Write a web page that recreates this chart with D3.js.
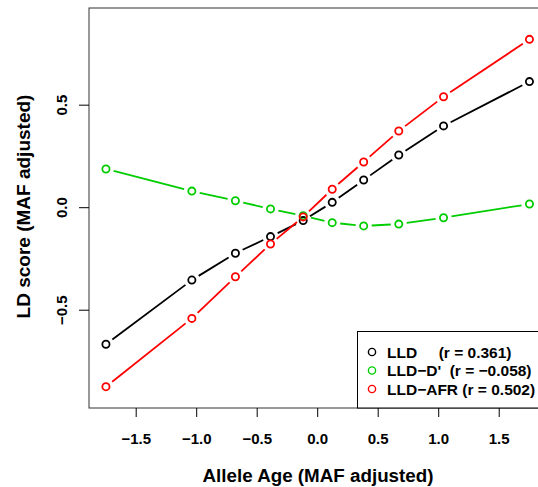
<!DOCTYPE html>
<html>
<head>
<meta charset="utf-8">
<script src="https://cdn.jsdelivr.net/npm/d3@7"></script>
<style>
  body { margin: 0; background: #fff; }
  text { font-family: "Liberation Sans", Arial, Helvetica, sans-serif; font-weight: bold; }
</style>
</head>
<body>
<svg width="538" height="487"></svg>
<script>
// allele age bins (x) and the three LD scores
var ageBins = [-1.75, -1.04, -0.68, -0.39, -0.12, 0.12, 0.38, 0.67, 1.04, 1.75];
var lld    = [-0.666, -0.353, -0.222, -0.141, -0.063, 0.026, 0.135, 0.257, 0.399, 0.615];
var lldD   = [0.189, 0.081, 0.034, -0.006, -0.039, -0.073, -0.089, -0.080, -0.049, 0.018];
var lldAfr = [-0.873, -0.540, -0.337, -0.177, -0.045, 0.090, 0.223, 0.374, 0.541, 0.821];

var xTicks = [-1.5, -1.0, -0.5, 0.0, 0.5, 1.0, 1.5];
var yTicks = [-0.5, 0.0, 0.5];

var seriesNames = ["LLD     (r = 0.361)", "LLD\u2212D'  (r = \u22120.058)", "LLD\u2212AFR (r = 0.502)"];
var seriesColors = ["#000000", "#00cd00", "#ff0000"];
var seriesValues = [lld, lldD, lldAfr];

var svg = d3.select("svg"),
    pLeft = 89, pTop = 8, pBottom = 408, pRight = 546.4;

var x = d3.scaleLinear().domain([-1.89, 1.89]).range([pLeft, pRight]);
var y = d3.scaleLinear().domain([-0.977, 0.974]).range([pBottom, pTop]);

var fmt = function(d) { return d3.format(".1f")(d).replace("-", "\u2212"); };

// plot frame
svg.append("rect")
    .attr("x", pLeft).attr("y", pTop)
    .attr("width", pRight - pLeft).attr("height", pBottom - pTop)
    .attr("fill", "none").attr("stroke", "#333").attr("stroke-width", 1);

// x axis ticks + labels
var xa = svg.append("g");
xa.selectAll("line").data(xTicks).enter().append("line")
    .attr("x1", function(d) { return x(d); }).attr("x2", function(d) { return x(d); })
    .attr("y1", pBottom).attr("y2", pBottom + 9)
    .attr("stroke", "#000");
xa.selectAll("text").data(xTicks).enter().append("text")
    .attr("x", function(d) { return x(d); }).attr("y", 444)
    .attr("text-anchor", "middle").attr("font-size", 15)
    .text(fmt);

// y axis ticks + labels (rotated, R style)
var ya = svg.append("g");
ya.selectAll("line").data(yTicks).enter().append("line")
    .attr("x1", pLeft - 10).attr("x2", pLeft)
    .attr("y1", function(d) { return y(d); }).attr("y2", function(d) { return y(d); })
    .attr("stroke", "#000");
ya.selectAll("text").data(yTicks).enter().append("text")
    .attr("transform", function(d) { return "translate(67," + y(d) + ") rotate(-90)"; })
    .attr("text-anchor", "middle").attr("font-size", 15)
    .text(fmt);

// axis titles
svg.append("text")
    .attr("x", 318).attr("y", 481.5)
    .attr("text-anchor", "middle").attr("font-size", 18.8)
    .text("Allele Age (MAF adjusted)");
svg.append("text")
    .attr("transform", "translate(29.5,206.5) rotate(-90)")
    .attr("text-anchor", "middle").attr("font-size", 19)
    .text("LD score (MAF adjusted)");

// lines with gaps around points (type = "b")
var gap = 8;
seriesValues.forEach(function(vals, k) {
  var pts = vals.map(function(v, i) { return [x(ageBins[i]), y(v)]; });
  var g = svg.append("g");
  for (var i = 0; i < pts.length - 1; i++) {
    var p = pts[i], q = pts[i + 1];
    var dx = q[0] - p[0], dy = q[1] - p[1], len = Math.sqrt(dx * dx + dy * dy);
    if (len <= 2 * gap) continue;
    var ux = dx / len, uy = dy / len;
    g.append("line")
        .attr("x1", p[0] + ux * gap).attr("y1", p[1] + uy * gap)
        .attr("x2", q[0] - ux * gap).attr("y2", q[1] - uy * gap)
        .attr("stroke", seriesColors[k]).attr("stroke-width", 1.8);
  }
  g.selectAll("circle").data(pts).enter().append("circle")
      .attr("cx", function(d) { return d[0]; }).attr("cy", function(d) { return d[1]; })
      .attr("r", 3.6)
      .attr("fill", "none").attr("stroke", seriesColors[k]).attr("stroke-width", 1.8);
});

// legend
var leg = svg.append("g");
leg.append("rect")
    .attr("x", 357.5).attr("y", 331.5).attr("width", 200).attr("height", 76.5)
    .attr("fill", "#fff").attr("stroke", "#000").attr("stroke-width", 1);
seriesNames.forEach(function(name, k) {
  var cy = 352 + k * 18.5;
  leg.append("circle")
      .attr("cx", 372).attr("cy", cy).attr("r", 3.6)
      .attr("fill", "none").attr("stroke", seriesColors[k]).attr("stroke-width", 1.4);
  leg.append("text")
      .attr("x", 387).attr("y", cy + 5.5)
      .attr("font-size", 15.5)
      .attr("xml:space", "preserve")
      .style("white-space", "pre")
      .text(name);
});
</script>
</body>
</html>
